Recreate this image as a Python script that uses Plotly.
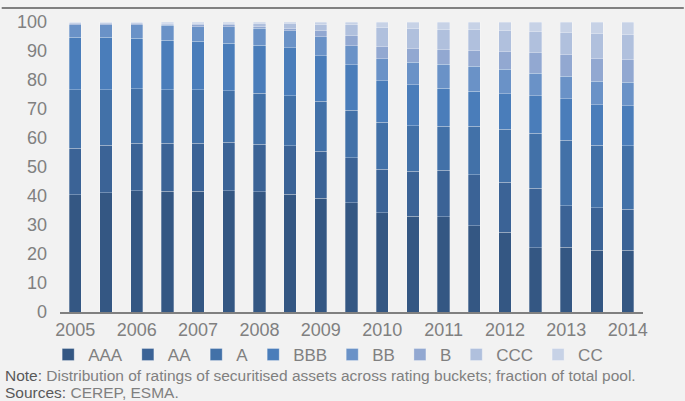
import plotly.graph_objects as go

periods = ["2005 H1", "2005 H2", "2006 H1", "2006 H2", "2007 H1", "2007 H2", "2008 H1", "2008 H2",
           "2009 H1", "2009 H2", "2010 H1", "2010 H2", "2011 H1", "2011 H2", "2012 H1", "2012 H2",
           "2013 H1", "2013 H2", "2014 H1"]
tick_periods = ["2005 H1", "2006 H1", "2007 H1", "2008 H1", "2009 H1", "2010 H1", "2011 H1",
                "2012 H1", "2013 H1", "2014 H1"]
tick_labels = ["2005", "2006", "2007", "2008", "2009", "2010", "2011", "2012", "2013", "2014"]

AAA = [40.4, 41.1, 41.8, 41.7, 41.7, 41.8, 41.5, 40.6, 39.3, 37.7, 34.3, 33.1, 32.8, 29.7, 27.5, 22.2, 22.3, 21.3, 21.3]
AA = [16.1, 16.4, 16.4, 16.5, 16.5, 16.8, 16.4, 16.8, 16.2, 15.5, 15.0, 15.5, 16.0, 17.6, 17.3, 20.5, 14.4, 14.7, 14.2]
A = [20.2, 19.2, 18.8, 18.5, 18.5, 17.7, 17.5, 17.2, 17.1, 16.3, 16.2, 15.6, 15.2, 16.7, 18.2, 18.9, 22.5, 21.5, 21.9]
BBB = [18.1, 18.1, 17.4, 17.0, 16.6, 16.3, 16.5, 16.5, 15.8, 15.7, 14.3, 14.2, 13.2, 12.2, 12.3, 12.9, 14.3, 13.9, 13.7]
BB = [4.2, 4.2, 4.6, 5.1, 5.0, 5.7, 5.9, 5.9, 6.5, 6.6, 7.5, 7.7, 8.2, 8.5, 8.4, 7.8, 7.8, 8.1, 8.2]
B = [0.4, 0.4, 0.4, 0.5, 0.7, 0.7, 0.7, 0.8, 2.1, 3.5, 4.3, 4.7, 5.1, 5.5, 6.2, 7.1, 7.5, 8.0, 7.8]
CCC = [0.3, 0.3, 0.3, 0.3, 0.5, 0.5, 1.0, 1.7, 2.3, 3.7, 6.5, 6.8, 6.9, 7.2, 7.1, 7.3, 7.5, 8.5, 8.6]
CC = [0.3, 0.3, 0.3, 0.4, 0.5, 0.5, 0.5, 0.5, 0.7, 1.0, 1.9, 2.4, 2.6, 2.6, 3.0, 3.3, 3.7, 4.0, 4.3]

series = [("AAA", AAA, "rgb(52,87,131)"),
          ("AA", AA, "rgb(59,99,150)"),
          ("A", A, "rgb(66,113,168)"),
          ("BBB", BBB, "rgb(74,125,186)"),
          ("BB", BB, "rgb(106,146,199)"),
          ("B", B, "rgb(146,168,209)"),
          ("CCC", CCC, "rgb(176,192,221)"),
          ("CC", CC, "rgb(199,210,230)")]

FONT = "Liberation Sans, Arial, sans-serif"
GREY = "#808080"

fig = go.Figure()
for name, vals, col in series:
    fig.add_trace(go.Bar(x=periods, y=vals, name=name,
                         marker=dict(color=col, line=dict(color="rgba(255,255,255,0.35)", width=0.8))))

fig.update_layout(
    barmode="stack",
    bargap=0.6,
    width=685, height=401,
    margin=dict(l=60, r=42, t=19, b=89),
    paper_bgcolor="#f2f2f2",
    plot_bgcolor="#f2f2f2",
    font=dict(family=FONT, size=17, color=GREY),
    showlegend=True,
    legend=dict(orientation="h", x=0.46, xanchor="center", y=-0.148, yanchor="middle",
                font=dict(size=17, color=GREY), itemwidth=30, traceorder="normal",
                bgcolor="rgba(0,0,0,0)", tracegroupgap=0),
    xaxis=dict(type="category", tickmode="array", tickvals=tick_periods, ticktext=tick_labels,
               showgrid=False, showline=True, linecolor=GREY, linewidth=2, ticks="",
               tickfont=dict(size=18, color=GREY), range=[-0.5, 18.5]),
    yaxis=dict(range=[0, 100], tickvals=list(range(0, 101, 10)), showgrid=False, zeroline=False,
               showline=False, ticks="", tickfont=dict(size=18, color=GREY), ticklabelstandoff=12),
)

fig.add_shape(type="line", xref="paper", yref="paper", x0=-0.1, x1=1.07, y0=1.048, y1=1.048,
              line=dict(color=GREY, width=2), layer="above")

fig.add_annotation(xref="paper", yref="paper", x=-0.098, y=-0.218, xanchor="left", yanchor="middle",
                   showarrow=False, align="left",
                   text="<span style='color:#595959'>Note:</span> Distribution of ratings of securitised assets across rating buckets; fraction of total pool.",
                   font=dict(size=15.5, color=GREY, family=FONT))
fig.add_annotation(xref="paper", yref="paper", x=-0.098, y=-0.276, xanchor="left", yanchor="middle",
                   showarrow=False, align="left",
                   text="<span style='color:#595959'>Sources:</span> CEREP, ESMA.",
                   font=dict(size=15.5, color=GREY, family=FONT))

fig.write_html("out.html", config={"displayModeBar": False},
               post_script="document.body.style.margin='0';")
